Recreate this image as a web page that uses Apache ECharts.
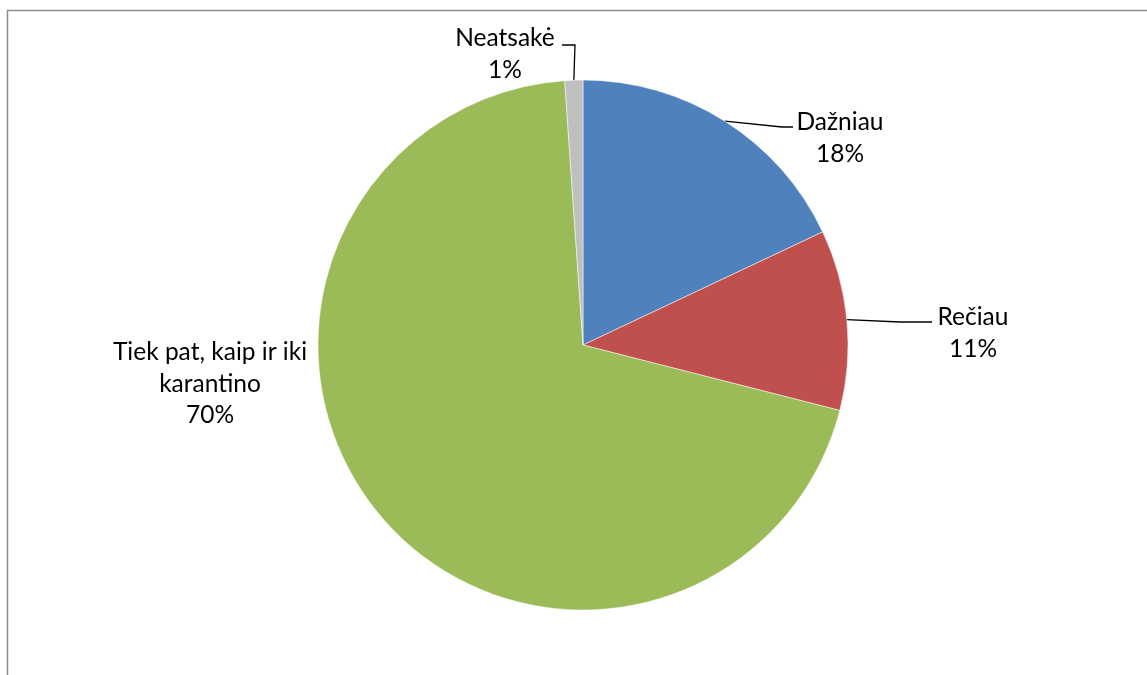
<!DOCTYPE html>
<html>
<head>
<meta charset="utf-8">
<script src="https://cdn.jsdelivr.net/npm/echarts@6/dist/echarts.min.js"></script>
<style>html,body{margin:0;padding:0;background:#fff}#c{width:1147px;height:675px}</style>
</head>
<body>
<div id="c"></div>
<script>
var categories = ['Dažniau', 'Rečiau', 'Tiek pat, kaip ir iki karantino', 'Neatsakė'];
var labelNames = ['Dažniau', 'Rečiau', 'Tiek pat, kaip ir iki\nkarantino', 'Neatsakė'];
var values = [18, 11, 70, 1.1];
var colors = ['#4F81BD', '#C0504D', '#9BBB59', '#BFBFBF'];

var CX = 583, CY = 345, R = 265;
// label anchor (center x, middle y) and leader line elbows, in data order
var labelAnchor = [[840, 138], [973, 333], [210, 384], [505, 54]];
var lineTail = [[[782, 127], [793, 127]], [[900, 322], [932, 322]], null, [[575, 45], [562, 45]]];

var total = values.reduce(function (a, b) { return a + b; }, 0);
function midPoint(i) {
  var before = 0;
  for (var k = 0; k < i; k++) before += values[k];
  var ang = (before + values[i] / 2) / total * 2 * Math.PI;
  return [CX + R * Math.sin(ang), CY - R * Math.cos(ang)];
}

var chart = echarts.init(document.getElementById('c'), null, { renderer: 'canvas' });
chart.setOption({
  animation: false,
  backgroundColor: '#fff',
  graphic: [{
    type: 'rect',
    shape: { x: 7.5, y: 10.5, width: 1200, height: 700 },
    style: { fill: 'none', stroke: '#8c8c8c', lineWidth: 1.5 },
    silent: true
  }],
  series: [{
    type: 'pie',
    center: [CX, CY],
    radius: R,
    startAngle: 90,
    clockwise: true,
    percentPrecision: 0,
    itemStyle: { borderColor: '#fff', borderWidth: 0.5 },
    label: {
      show: true,
      position: 'outside',
      fontFamily: 'Lato',
      fontSize: 24.5,
      lineHeight: 31.5,
      color: '#000',
      align: 'center',
      formatter: function (p) { return labelNames[p.dataIndex] + '\n' + Math.round(p.percent) + '%'; }
    },
    labelLine: { show: true, lineStyle: { color: '#000', width: 1.3 } },
    labelLayout: function (p) {
      var i = p.dataIndex;
      var a = labelAnchor[i];
      var res = { x: a[0], y: a[1], align: 'center', verticalAlign: 'middle' };
      if (lineTail[i]) {
        res.labelLinePoints = [midPoint(i), lineTail[i][0], lineTail[i][1]];
      }
      return res;
    },
    data: categories.map(function (c, i) {
      var d = { name: c, value: values[i], itemStyle: { color: colors[i] } };
      if (!lineTail[i]) d.labelLine = { show: false };
      return d;
    })
  }]
});
</script>
</body>
</html>
